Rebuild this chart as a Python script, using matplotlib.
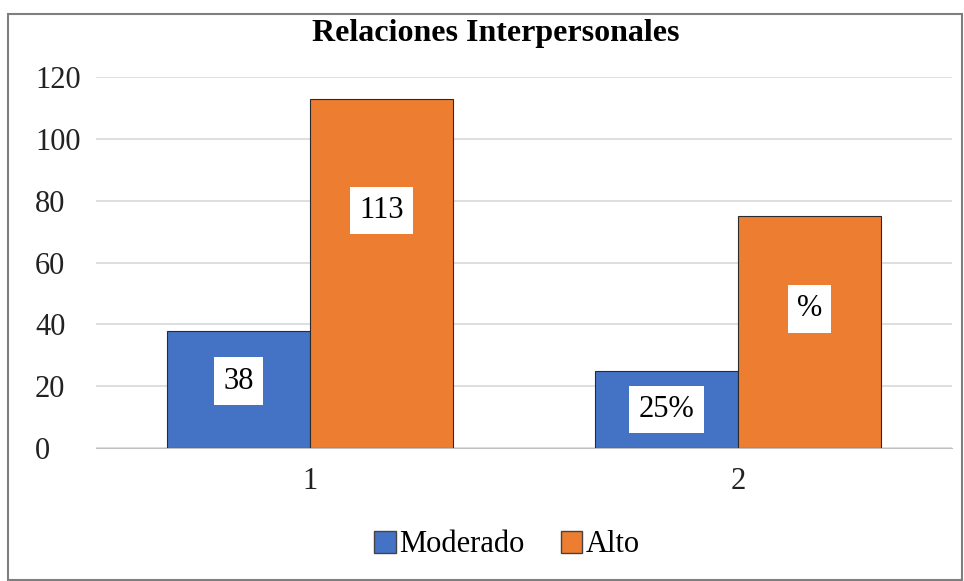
import numpy as np
import matplotlib.pyplot as plt
from matplotlib.patches import Rectangle, Patch

plt.rcParams['font.family'] = ['Liberation Serif', 'DejaVu Serif']

categories = ['1', '2']
series_names = ['Moderado', 'Alto']
moderado = [38, 25]
alto = [113, 75]
moderado_labels = ['38', '25%']
alto_labels = ['113', '%']
# where each label box sits, as a fraction of its bar height
moderado_label_frac = [0.57, 0.50]
alto_label_frac = [0.68, 0.60]

c_blue = '#4472C4'
c_orange = '#ED7D31'

W, H = 964, 581
fig = plt.figure(figsize=(W / 100, H / 100), dpi=100)
ax = fig.add_axes([96 / W, (H - 448) / H, 856 / W, 371 / H])

x = np.arange(len(categories))
w = 0.334
ax.bar(x - w / 2, moderado, w, color=c_blue, edgecolor='#2b2b2b', linewidth=0.8, zorder=3)
ax.bar(x + w / 2, alto, w, color=c_orange, edgecolor='#2b2b2b', linewidth=0.8, zorder=3)

box = dict(boxstyle='square,pad=0.3', facecolor='white', edgecolor='none')
for i in range(len(categories)):
    ax.text(x[i] - w / 2, moderado[i] * moderado_label_frac[i], moderado_labels[i],
            ha='center', va='center', fontsize=22, bbox=box, zorder=4)
    ax.text(x[i] + w / 2, alto[i] * alto_label_frac[i], alto_labels[i],
            ha='center', va='center', fontsize=22, bbox=box, zorder=4)

ax.set_xlim(-0.5, 1.5)
ax.set_ylim(0, 120)
ax.set_yticks(range(0, 121, 20))
ax.set_xticks(x)
ax.set_xticklabels(categories)
ax.tick_params(axis='both', length=0, labelsize=22, colors='#222222')
ax.tick_params(axis='y', pad=44)
ax.tick_params(axis='x', pad=14)
for t in ax.get_yticklabels():
    t.set_horizontalalignment('left')
ax.grid(axis='y', color='#d9d9d9', linewidth=1.2, zorder=0)
for s in ['top', 'right', 'left']:
    ax.spines[s].set_visible(False)
ax.spines['bottom'].set_color('#bfbfbf')

fig.text(496 / W, 1 - 34 / H, 'Relaciones Interpersonales', ha='center', va='center',
         fontsize=23, fontweight='bold')

handles = [Patch(facecolor=c_blue, edgecolor='#444444'),
           Patch(facecolor=c_orange, edgecolor='#444444')]
fig.legend(handles, series_names, loc='center', bbox_to_anchor=(507 / W, 1 - 545 / H),
           ncol=2, frameon=False, fontsize=22, handlelength=0.7, handleheight=0.7,
           handletextpad=0.1, columnspacing=1.2)

fig.patches.append(Rectangle((8 / W, 1 / H), (W - 10) / W, (H - 15) / H, transform=fig.transFigure,
                             fill=False, edgecolor='#7f7f7f', linewidth=1.5))

fig.savefig('out.png', dpi=100)
